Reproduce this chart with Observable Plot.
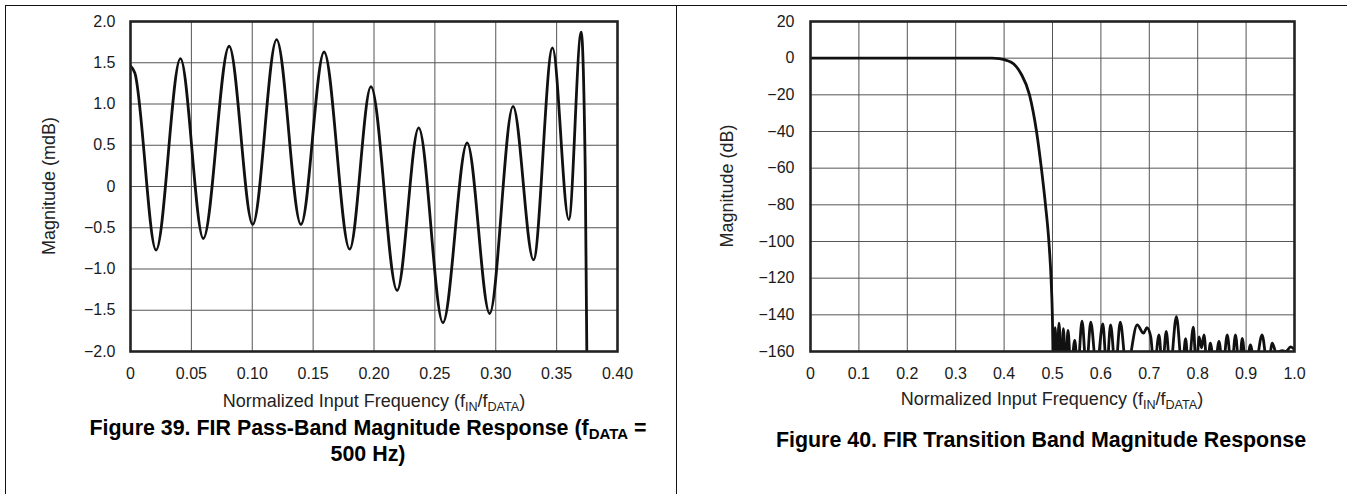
<!DOCTYPE html>
<html>
<head>
<meta charset="utf-8">
<script src="https://cdn.jsdelivr.net/npm/d3@7"></script>
<script src="https://cdn.jsdelivr.net/npm/@observablehq/plot@0.6"></script>
<style>
  html, body { margin: 0; padding: 0; background: #fff; }
  #root { position: relative; width: 1347px; height: 494px; overflow: hidden;
          font-family: "Liberation Sans", Arial, Helvetica, sans-serif; color: #111; }
  .ln { position: absolute; background: #111; }
  .chart { position: absolute; top: 0; }
  .xt { position: absolute; font-size: 18px; line-height: 18px; white-space: nowrap; transform: translateX(-50%); color: #222; }
  .yt { position: absolute; font-size: 18px; line-height: 18px; white-space: nowrap; transform: translate(-50%, -50%) rotate(-90deg); color: #222; }
  .cap { position: absolute; width: 700px; text-align: center; font-weight: bold; font-size: 21.4px; line-height: 25px; color: #000; }
  .sb { font-size: 0.7em; position: relative; top: 0.3em; }
</style>
</head>
<body>
<div id="root">
  <div class="ln" style="left:5px;top:5px;width:1342px;height:1px"></div>
  <div class="ln" style="left:5px;top:5px;width:1px;height:489px"></div>
  <div class="ln" style="left:676px;top:5px;width:1px;height:489px"></div>
  <div id="c1" class="chart" style="left:0px"></div>
  <div id="c2" class="chart" style="left:677px"></div>
  <div class="yt" style="left:49px;top:186px">Magnitude (mdB)</div>
  <div class="yt" style="left:727px;top:186px">Magnitude (dB)</div>
  <div class="xt" style="left:374px;top:392px">Normalized Input Frequency (f<span class="sb">IN</span>/f<span class="sb">DATA</span>)</div>
  <div class="xt" style="left:1052px;top:390px">Normalized Input Frequency (f<span class="sb">IN</span>/f<span class="sb">DATA</span>)</div>
  <div class="cap" style="left:18px;top:416px">Figure 39. FIR Pass-Band Magnitude Response (f<span class="sb">DATA</span> =<br>500 Hz)</div>
  <div class="cap" style="left:691px;top:428px">Figure 40. FIR Transition Band Magnitude Response</div>
</div>
<script>
// ---- Figure 39: pass-band ripple (mdB) ----
const passFreq = [0, 0.0035, 0.021, 0.041, 0.0598, 0.081, 0.1004, 0.120, 0.140, 0.159, 0.180, 0.1975, 0.219, 0.2367, 0.2566, 0.2765, 0.295, 0.3142, 0.331, 0.3466, 0.360, 0.3702, 0.3735, 0.3748, 0.3755];
const passMag  = [1.46, 1.38, -0.77, 1.55, -0.63, 1.70, -0.46, 1.78, -0.46, 1.63, -0.76, 1.21, -1.26, 0.71, -1.65, 0.53, -1.54, 0.97, -0.89, 1.68, -0.40, 1.87, 0.2, -2.0, -2.6];
const passTicksX = [0, 0.05, 0.10, 0.15, 0.20, 0.25, 0.30, 0.35, 0.40];
const passLabelsX = ["0", "0.05", "0.10", "0.15", "0.20", "0.25", "0.30", "0.35", "0.40"];
const passTicksY = [2, 1.5, 1, 0.5, 0, -0.5, -1, -1.5, -2];
const passLabelsY = ["2.0", "1.5", "1.0", "0.5", "0", "\u22120.5", "\u22121.0", "\u22121.5", "\u22122.0"];

// ---- Figure 40: transition band (dB) ----
const transFreq = [0, 0.375, 0.39, 0.405, 0.42, 0.435, 0.4525, 0.467, 0.477, 0.4855, 0.4925, 0.497, 0.4997, 0.5018,
  0.5055, 0.509, 0.5135, 0.518, 0.5225, 0.527, 0.532, 0.538, 0.546, 0.552, 0.561, 0.570, 0.579, 0.591,
  0.604, 0.612, 0.620, 0.630, 0.640, 0.653, 0.675, 0.688, 0.695, 0.703, 0.710, 0.720, 0.727, 0.735, 0.743,
  0.756, 0.768, 0.775, 0.781, 0.791, 0.797, 0.803, 0.808, 0.813, 0.820, 0.826, 0.835, 0.844, 0.852,
  0.861, 0.870, 0.878, 0.886, 0.892, 0.900, 0.909, 0.918, 0.933, 0.945, 0.954, 0.962, 0.975, 0.982, 0.992, 1.0];
const transMag = [0, 0, -0.3, -1.2, -3.2, -8.5, -20, -40, -60, -80, -100, -120, -140, -170,
  -147, -170, -144.5, -170, -147.5, -170, -148.5, -170, -154, -170, -143.5, -170, -144, -170,
  -145, -170, -145.5, -170, -144, -170, -145.5, -150, -147, -152, -170, -151, -170, -149, -170,
  -141, -170, -153, -170, -146.7, -170, -152, -158, -151, -170, -155.4, -170, -154.5, -170,
  -151, -170, -151, -170, -152.8, -170, -156.4, -170, -151, -170, -155.4, -160.5, -159.5, -160, -157.5, -159];
const transTicksX = [0, 0.1, 0.2, 0.3, 0.4, 0.5, 0.6, 0.7, 0.8, 0.9, 1.0];
const transLabelsX = ["0", "0.1", "0.2", "0.3", "0.4", "0.5", "0.6", "0.7", "0.8", "0.9", "1.0"];
const transTicksY = [20, 0, -20, -40, -60, -80, -100, -120, -140, -160];
const transLabelsY = ["20", "0", "\u221220", "\u221240", "\u221260", "\u221280", "\u2212100", "\u2212120", "\u2212140", "\u2212160"];

const FONT = '"Liberation Sans", Arial, Helvetica, sans-serif';

function makeChart(o) {
  const data = o.xs.map((x, i) => ({x, y: o.ys[i]}));
  return Plot.plot({
    width: o.width, height: 400,
    marginLeft: o.marginLeft, marginRight: o.marginRight, marginTop: 21, marginBottom: 49,
    x: {domain: o.xDomain},
    y: {domain: o.yDomain},
    style: {fontFamily: FONT, fontSize: "16px", color: "#1a1a1a", background: "transparent", overflow: "visible"},
    marks: [
      Plot.ruleX(o.xTicks, {stroke: "#555", strokeWidth: 1}),
      Plot.ruleY(o.yTicks, {stroke: "#555", strokeWidth: 1}),
      Plot.line(data, {x: "x", y: "y", curve: "monotone-x", stroke: "#111", strokeWidth: 2.8, clip: true}),
      Plot.frame({stroke: "#222", strokeWidth: 2.6}),
      Plot.axisX({ticks: o.xTicks, tickFormat: d => o.xLabels[o.xTicks.indexOf(d)], tickSize: 0, tickPadding: 16, fontSize: 16, label: null}),
      Plot.axisY({ticks: o.yTicks, tickFormat: d => o.yLabels[o.yTicks.indexOf(d)], tickSize: 0, tickPadding: o.yPad, fontSize: 16, label: null})
    ]
  });
}

document.getElementById("c1").append(makeChart({
  width: 672, marginLeft: 130, marginRight: 55,
  xDomain: [0, 0.4], yDomain: [-2, 2],
  xTicks: passTicksX, xLabels: passLabelsX, yTicks: passTicksY, yLabels: passLabelsY,
  xs: passFreq, ys: passMag, yPad: 15
}));
document.getElementById("c2").append(makeChart({
  width: 670, marginLeft: 133, marginRight: 53,
  xDomain: [0, 1], yDomain: [-160, 20],
  xTicks: transTicksX, xLabels: transLabelsX, yTicks: transTicksY, yLabels: transLabelsY,
  xs: transFreq, ys: transMag, yPad: 16
}));
</script>
</body>
</html>
